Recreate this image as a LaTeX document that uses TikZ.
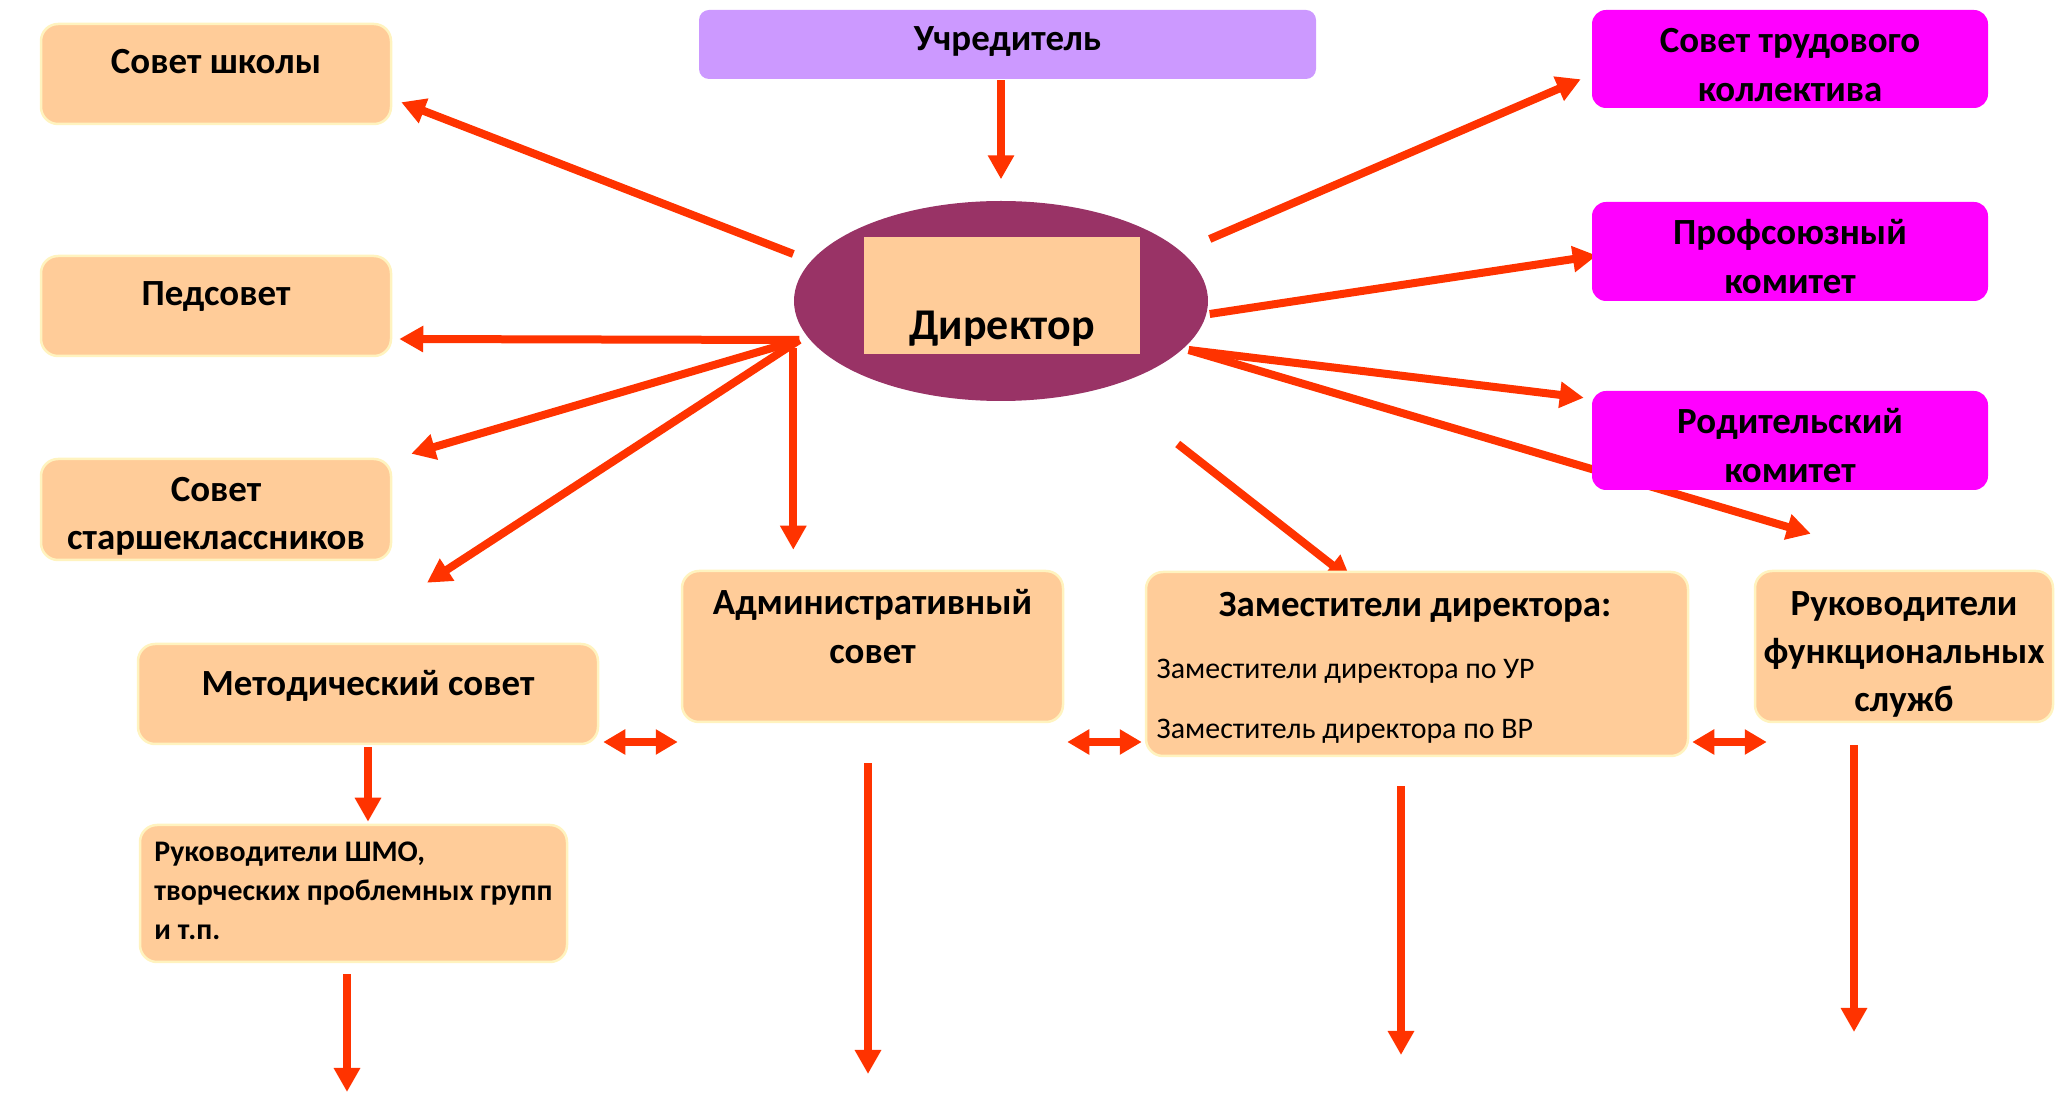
\documentclass[tikz,border=0pt]{standalone}
\usepackage{fontspec}
\setmainfont{Carlito}
\usetikzlibrary{arrows.meta,shapes.geometric,backgrounds}
\definecolor{peach}{HTML}{FFCC99}
\definecolor{lilac}{HTML}{CC99FF}
\definecolor{fuchsia}{HTML}{FF00FF}
\definecolor{plum}{HTML}{993366}
\definecolor{rim}{HTML}{FFF3BF}
\definecolor{arrred}{HTML}{FF3300}
\begin{document}
\begin{tikzpicture}[x=0.1mm,y=-0.1mm]

    \tikzset{
      pbox/.style={
        rectangle,
        rounded corners=1.7mm,
        fill=peach,
        draw=rim,
        line width=0.25mm,
        inner sep=0pt,
      },
      mbox/.style={
        pbox,
        fill=fuchsia,
        draw=none,
        rounded corners=1.4mm,
      },
      btxt/.style={inner sep=0pt, align=center, font=\fontsize{10.5}{13.7}\selectfont\bfseries},
      stxt/.style={inner sep=0pt, font=\fontsize{8.5}{11.1}\selectfont},
      arr/.style={draw=arrred, line width=0.8mm, -{Triangle[length=2.4mm,width=2.5mm]}},
      dbl/.style={draw=arrred, line width=0.8mm, {Triangle[length=2.2mm,width=2.4mm]}-{Triangle[length=2.2mm,width=2.4mm]}},
    }
    \useasboundingbox (0,0) rectangle (2055,1105);
	\node[pbox, fill=lilac, draw=none, rounded corners=1mm, minimum width=61.7mm, minimum height=6.9mm] (uchr) at (1007.5,44.5) {};
	\node[btxt] (uchr-t) at ([shift={(0,-3)}]uchr.center) {Учредитель};
	\node[ellipse, fill=plum, minimum width=41.4mm, minimum height=20mm, inner sep=0pt] (dir) at (1001,301) {};
	\node[rectangle, fill=peach, minimum width=27.6mm, minimum height=11.7mm, inner sep=0pt] (dirbox) at (1002,295.5) {};
	\node[btxt, font=\fontsize{12.5}{15}\selectfont\bfseries, anchor=base] (dir-t) at (1002,340) {Директор};
	\node[pbox, minimum width=35mm, minimum height=10mm] (shkola) at (216,74) {};
	\node[btxt] (shkola-t) at ([shift={(0,-12)}]shkola.center) {Совет школы};
	\node[pbox, minimum width=35mm, minimum height=10mm] (ped) at (216,306) {};
	\node[btxt] (ped-t) at ([shift={(0,-9)}]ped.center) {Педсовет};
	\node[pbox, minimum width=35mm, minimum height=10.1mm] (star) at (216,509.5) {};
	\node[btxt] (star-t) at ([shift={(0,7)}]star.center) {Совет\\старшеклассников};
	\node[mbox, minimum width=39.6mm, minimum height=9.8mm] (trud) at (1790,59) {};
	\node[btxt] (trud-t) at ([shift={(0,6)}]trud.center) {Совет трудового\\коллектива};
	\node[mbox, minimum width=39.6mm, minimum height=9.9mm] (prof) at (1790,251.5) {};
	\node[btxt] (prof-t) at ([shift={(0,5)}]prof.center) {Профсоюзный\\комитет};
	\node[mbox, minimum width=39.6mm, minimum height=9.9mm] (rod) at (1790,440.5) {};
	\node[btxt] (rod-t) at ([shift={(0,5)}]rod.center) {Родительский\\комитет};
	\node[pbox, minimum width=46mm, minimum height=10mm] (metod) at (368,694) {};
	\node[btxt] (metod-t) at ([shift={(0,-8)}]metod.center) {Методический совет};
	\node[pbox, minimum width=42.7mm, minimum height=13.7mm] (shmo) at (353.5,893.5) {};
	\node[btxt, align=left, font=\fontsize{8.5}{11.1}\selectfont\bfseries] (shmo-t) at ([shift={(0,-3)}]shmo.center) {Руководители ШМО,\\творческих проблемных групп\\и т.п.};
	\node[pbox, minimum width=38.1mm, minimum height=15.1mm] (admin) at (872.5,646.5) {};
	\node[btxt] (admin-t) at ([shift={(0,-20)}]admin.center) {Административный\\совет};
	\node[pbox, minimum width=54.2mm, minimum height=18.4mm] (zam) at (1417,664) {};
	\node[btxt, anchor=base] (zam-t) at (1415,617) {Заместители директора:};
	\node[stxt, anchor=base west] (zam-ur) at (1156,679) {Заместители директора по УР};
	\node[stxt, anchor=base west] (zam-vr) at (1156,739) {Заместитель директора по ВР};
	\node[pbox, minimum width=29.8mm, minimum height=15.1mm] (ruk) at (1904,646.5) {};
	\node[btxt] (ruk-t) at ([shift={(0,8)}]ruk.center) {Руководители\\функциональных\\служб};
	\coordinate (link) at (0,742);
	\coordinate (shmo-out) at (347,1092);
	\coordinate (admin-out) at (868,1074);
	\coordinate (zam-out) at (1401,1055);
	\coordinate (ruk-out) at (1854,1032);
    \begin{scope}[on background layer]
	\draw[arr, shorten >=2.1mm] (dir.north |- uchr.south) -- (dir.north);
	\draw[arr] ([shift={(0,-47)}]dir.west) -- ([shift={(9,-23)}]shkola.south east);
	\draw[arr] ([shift={(6,39)}]dir.west) -- ([shift={(7,33)}]ped.east);
	\draw[arr] ([shift={(6,39)}]dir.west) -- ([shift={(19,-4)}]star.north east);
	\draw[arr] ([shift={(6,39)}]dir.west) -- ([shift={(59,-60)}]metod.north);
	\draw[arr, shorten >=2mm] ([shift={(0,47)}]dir.west) -- (dir.west |- admin.north);
	\draw[arr] ([shift={(1,-62)}]dir.east) -- ([shift={(-10,-30)}]trud.south west);
	\draw[arr] ([shift={(1,13)}]dir.east) -- ([shift={(6,4)}]prof.west);
	\draw[arr] ([shift={(-20,49)}]dir.east) -- ([shift={(-7,8)}]rod.north west);
	\draw[arr] ([shift={(-20,49)}]dir.east) -- ([shift={(57,-36)}]ruk.north west);
	\draw[arr] ([shift={(-31,143)}]dir.east) -- ([shift={(-66,9)}]zam.north);
	\draw[arr, shorten <=0.2mm, shorten >=0.2mm] (metod.south) -- (metod.south |- shmo.north);
	\draw[arr, shorten <=1.1mm] (shmo.south -| shmo-out) -- (shmo-out);
	\draw[arr, shorten <=4mm] (admin.south -| admin-out) -- (admin-out);
	\draw[arr, shorten <=2.9mm] (zam.south -| zam-out) -- (zam-out);
	\draw[arr, shorten <=2.2mm] (ruk.south -| ruk-out) -- (ruk-out);
	\draw[dbl, shorten <=0.4mm, shorten >=0.3mm] (metod.east |- link) -- (admin.west |- link);
	\draw[dbl, shorten <=0.3mm, shorten >=0.3mm] (admin.east |- link) -- (zam.west |- link);
	\draw[dbl, shorten <=0.3mm, shorten >=-1.3mm] (zam.east |- link) -- (ruk.west |- link);
    \end{scope}

\end{tikzpicture}
\end{document}
